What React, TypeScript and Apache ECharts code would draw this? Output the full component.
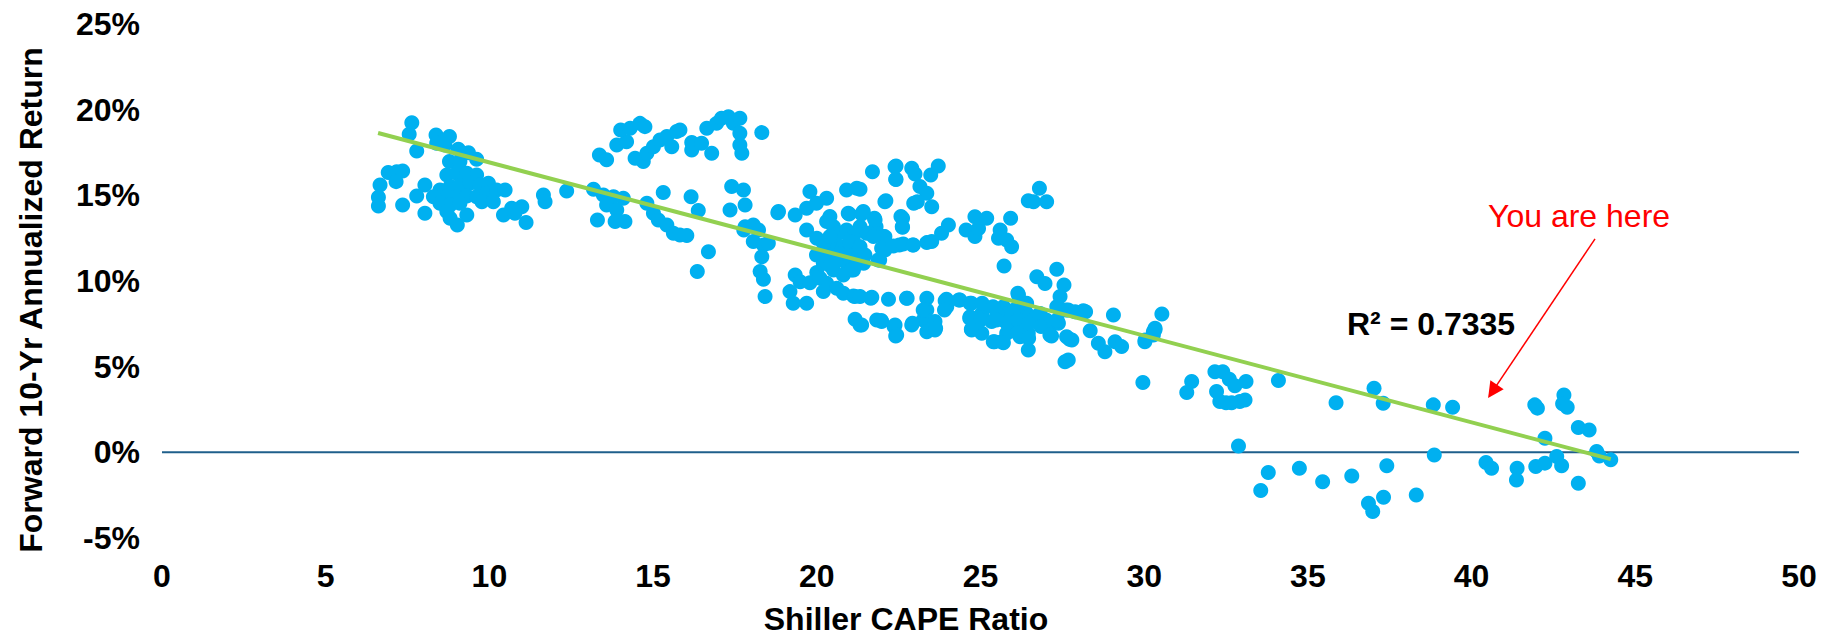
import React, { useEffect, useRef } from "react";
import * as echarts from "echarts";

// ---- axes ----
const X_MIN = 0;
const X_MAX = 50;
const X_STEP = 5;
const Y_MIN = -5;
const Y_MAX = 25;
const Y_STEP = 5;

const xAxisTitle = "Shiller CAPE Ratio";
const yAxisTitle = "Forward 10-Yr Annualized Return";

// ---- data: [Shiller CAPE, forward 10-yr annualized return (%)] ----
const lowCapePoints: [number, number][] = [
  [7.63, 19.24], [7.55, 18.56], [7.78, 17.59], [8.37, 18.52], [8.78, 18.43], [8.39, 18.04], [8.64, 17.94],
  [9.05, 17.69], [9.36, 17.49], [9.61, 17.1], [8.78, 16.97], [9.1, 16.97], [6.91, 16.33], [7.17, 16.38],
  [7.35, 16.42], [7.15, 15.8], [6.66, 15.6], [6.61, 14.89], [6.61, 14.38], [7.35, 14.44], [8.03, 15.6],
  [7.78, 14.96], [8.03, 13.95], [8.7, 16.19], [9.0, 16.29], [9.31, 16.29], [9.61, 16.19], [8.49, 15.31],
  [8.8, 15.51], [9.1, 15.6], [9.41, 15.7], [9.71, 15.6], [9.97, 15.7], [8.29, 14.92], [8.7, 14.92],
  [9.0, 14.92], [9.31, 14.96], [9.61, 14.92], [9.92, 15.12], [10.22, 15.31], [10.48, 15.31], [8.49, 14.54],
  [8.8, 14.44], [9.1, 14.54], [8.7, 14.05], [8.8, 13.66], [9.02, 13.27], [9.31, 13.85], [9.77, 14.63],
  [10.12, 14.63], [10.43, 13.85], [10.68, 14.24], [10.99, 14.34], [10.78, 13.95], [11.12, 13.41],
  [11.65, 15.02], [11.7, 14.63], [12.36, 15.25],
  [13.18, 15.35], [13.48, 15.02], [13.79, 14.92], [14.09, 14.83], [13.58, 14.44], [13.89, 14.15],
  [13.3, 13.56], [13.84, 13.47], [14.14, 13.47], [14.81, 14.54], [15.01, 13.95], [15.16, 13.56],
  [15.31, 15.16], [15.42, 13.27], [15.62, 12.78],
  [13.36, 17.36], [13.58, 17.07], [13.89, 17.94], [14.19, 18.13], [14.01, 18.82], [14.3, 18.91],
  [14.6, 19.2], [14.75, 19.01], [14.45, 17.16], [14.7, 16.97], [14.81, 17.45], [15.01, 17.84],
  [15.21, 18.23], [15.42, 18.43], [15.57, 17.84], [15.72, 18.72],
];

const midCapePoints: [number, number][] = [
  [15.82, 18.82], [16.18, 18.08], [16.18, 17.65], [16.48, 18.04], [16.79, 17.45], [16.64, 18.91],
  [16.94, 19.2], [17.09, 19.5], [17.3, 19.59], [17.45, 19.2], [17.65, 19.5], [17.65, 18.62],
  [17.65, 17.94], [17.71, 17.45], [18.32, 18.66],
  [16.16, 14.92], [16.38, 14.11], [16.69, 11.71], [16.35, 10.55], [16.03, 12.65], [15.82, 12.69],
  [17.4, 15.51], [17.76, 15.31], [17.81, 14.44], [17.35, 14.15], [17.81, 13.17], [18.06, 13.27],
  [18.22, 12.98], [18.06, 12.3], [18.37, 12.1], [18.52, 12.2], [18.32, 11.42], [18.27, 10.55],
  [18.37, 10.1], [18.42, 9.09], [18.83, 14.05], [19.34, 13.85], [19.69, 14.24], [19.79, 15.22],
  [19.99, 14.54], [20.3, 14.83], [20.4, 13.76], [19.69, 12.98], [20.91, 15.31], [21.22, 15.41],
  [20.96, 13.95], [17.77, 12.98],
  [20.3, 13.47], [20.51, 13.17], [20.66, 12.78], [20.91, 12.98], [21.12, 12.59], [20.51, 12.2],
  [20.81, 12.0], [21.02, 11.81], [20.3, 11.62], [20.61, 11.23], [20.91, 11.03], [21.22, 11.23],
  [19.99, 11.52], [20.2, 11.03], [20.51, 10.64], [20.81, 10.35], [21.12, 10.64],
  [20.0, 12.5], [20.2, 12.2], [20.4, 12.6], [20.7, 11.6], [21.0, 12.3], [20.4, 10.9], [20.0, 10.5],
  [21.3, 12.0], [21.3, 11.5],
  [19.34, 10.35], [19.49, 9.96], [19.79, 9.9], [20.1, 10.16], [20.3, 9.87], [19.18, 9.38], [19.28, 8.7],
  [19.69, 8.7], [20.2, 9.38], [20.61, 9.57], [20.81, 9.28], [21.12, 9.13], [21.17, 7.77], [21.32, 7.43],
  [21.83, 7.73],
  [21.7, 16.38], [22.39, 16.67], [22.9, 16.58], [22.41, 15.94], [22.08, 14.63], [22.57, 13.76],
  [22.61, 13.17], [20.99, 13.91], [21.37, 13.91], [21.76, 13.66], [21.81, 13.17], [22.08, 12.59],
  [22.96, 14.54], [22.93, 12.1], [22.52, 12.1], [22.08, 11.81], [21.92, 11.23], [21.05, 10.64],
  [21.43, 11.03], [18.81, 13.99], [21.16, 9.09], [21.65, 8.99], [22.19, 8.93], [22.74, 8.99],
  [21.97, 7.69], [22.36, 7.34], [22.41, 6.79], [22.9, 7.43],
];

const highCapePoints: [number, number][] = [
  [22.42, 16.71], [22.42, 15.93], [23.0, 16.25], [23.48, 16.19], [23.71, 16.71], [21.32, 15.35],
  [23.15, 15.51], [23.36, 15.12], [23.07, 14.63], [23.51, 14.34], [22.11, 14.69], [21.42, 14.05],
  [21.78, 13.56], [22.62, 13.66], [22.62, 13.13], [21.32, 13.17], [21.52, 12.78], [22.03, 12.59],
  [21.73, 12.59], [21.32, 12.0], [21.98, 11.91], [22.34, 12.04], [22.64, 12.16], [22.95, 12.1],
  [23.36, 12.24], [23.51, 12.3], [23.81, 12.78], [24.02, 13.27], [21.47, 11.52], [21.88, 11.23],
  [21.32, 11.07], [24.56, 12.98], [24.83, 13.75], [25.19, 13.66], [24.83, 12.59], [24.94, 13.07],
  [25.6, 12.98], [25.55, 12.49], [25.8, 12.39], [25.95, 12.0], [25.92, 13.66], [25.72, 10.88],
  [26.46, 14.69], [26.8, 15.41], [27.02, 14.63], [26.62, 14.63],
  [21.32, 9.09], [21.68, 9.05], [23.36, 8.99], [23.92, 8.85], [24.37, 8.89], [21.37, 7.43],
  [21.98, 7.63], [22.39, 7.43], [22.44, 6.85], [23.25, 7.72], [23.36, 8.31], [23.61, 7.63],
  [23.36, 7.04], [23.61, 7.14], [23.97, 8.5], [24.68, 8.7], [24.68, 7.92], [25.04, 8.11], [24.73, 7.14],
  [25.04, 6.95], [25.34, 7.63], [25.39, 6.46], [25.65, 6.46], [25.7, 8.5], [25.7, 7.72], [26.0, 7.92],
  [26.16, 9.18], [26.31, 8.5], [26.62, 7.72], [26.11, 7.24], [26.46, 6.95], [26.46, 5.97], [26.72, 10.25],
  [26.97, 9.86], [27.33, 10.68], [27.55, 9.77], [27.43, 9.09], [27.33, 8.5], [27.68, 8.31], [27.38, 7.53],
  [27.17, 6.79], [27.63, 6.75], [27.79, 6.56], [27.58, 5.29], [27.68, 5.39], [28.14, 8.27], [28.35, 7.1],
  [28.6, 6.36], [28.8, 5.87], [29.06, 8.02], [29.11, 6.46], [29.31, 6.17], [30.03, 6.56], [30.28, 7.04],
  [30.33, 7.24], [30.54, 8.07], [29.96, 4.07],
  [25.8, 8.11], [26.11, 8.31], [26.41, 8.11], [25.9, 7.43], [26.26, 7.63], [26.82, 8.11], [26.92, 7.43],
  [25.5, 8.11], [26.21, 6.75], [25.8, 6.95],
  [22.76, 9.0], [23.96, 8.93], [24.34, 8.89], [23.25, 8.31], [23.9, 8.31], [22.92, 7.53], [23.63, 7.24],
  [24.72, 8.7], [25.05, 8.7], [24.67, 7.82], [25.0, 7.73], [24.72, 7.18], [25.43, 6.46], [25.7, 6.4],
  [25.38, 8.5], [26.03, 8.31], [26.36, 8.11], [26.69, 7.92], [27.01, 7.73], [25.49, 7.73], [25.81, 7.53],
  [26.14, 7.73], [26.47, 7.53], [26.85, 7.34], [27.23, 7.53], [26.14, 9.28], [26.41, 8.7], [26.14, 6.95],
  [26.47, 6.66], [27.12, 6.85], [27.72, 6.6], [27.34, 7.73], [27.61, 8.31], [27.89, 8.21], [28.21, 8.21],
];

const veryHighCapePoints: [number, number][] = [
  [30.33, 7.15], [30.28, 6.85], [30.02, 6.46], [31.45, 4.13], [31.3, 3.49], [32.16, 4.71], [32.4, 4.71],
  [32.6, 4.26], [32.77, 3.88], [33.11, 4.13], [32.21, 3.55], [32.31, 2.96], [32.67, 2.9], [32.92, 2.96],
  [33.08, 3.06], [32.5, 2.9], [34.1, 4.19], [35.86, 2.9], [37.02, 3.74], [37.3, 2.86], [38.83, 2.77],
  [39.42, 2.63],
  [32.88, 0.37], [33.79, -1.18], [33.56, -2.23], [34.74, -0.93], [35.45, -1.71], [36.34, -1.38],
  [36.85, -2.97], [36.98, -3.46], [37.31, -2.62], [37.41, -0.79], [38.31, -2.49], [38.86, -0.15],
  [40.44, -0.6], [40.61, -0.93], [41.39, -0.93], [41.37, -1.61], [41.93, 2.77], [42.01, 2.58],
  [42.82, 3.35], [42.78, 2.83], [42.92, 2.63], [42.24, 0.82], [41.96, -0.83], [42.24, -0.63],
  [42.6, -0.25], [42.75, -0.79], [43.26, -1.8], [43.26, 1.45], [43.59, 1.31], [43.82, 0.05],
  [43.9, -0.21], [44.25, -0.44],
];

// linear trend line end points
const trendLine: [number, number][] = [[6.6, 18.64], [44.25, -0.4]];
const rSquaredText = "R\u00B2 = 0.7335";
const calloutText = "You are here";
const calloutFrom: [number, number] = [43.77, 12.46];
const calloutTo: [number, number] = [40.64, 3.56];

const FONT = "'Liberation Sans', Arial, Helvetica, sans-serif";
const DOT = "#00B0F0";
const TREND = "#92D050";
const ZERO = "#1F5F8B";

export default function App() {
  const ref = useRef<HTMLDivElement>(null);

  useEffect(() => {
    if (!ref.current) return;
    const chart = echarts.init(ref.current, undefined, { renderer: "svg" });
    const allPoints = [...lowCapePoints, ...midCapePoints, ...highCapePoints, ...veryHighCapePoints];
    const zeroLine: [number, number][] = [[X_MIN, 0], [X_MAX, 0]];

    const option: any = {
      animation: false,
      backgroundColor: "#ffffff",
      grid: { left: 162, right: 25, top: 24, bottom: 99, containLabel: false, outerBoundsMode: "none" },
      xAxis: {
        type: "value",
        min: X_MIN,
        max: X_MAX,
        interval: X_STEP,
        axisLine: { show: false },
        axisTick: { show: false },
        splitLine: { show: false },
        axisLabel: { fontSize: 32, fontWeight: "bold", color: "#000", fontFamily: FONT, margin: 22 },
      },
      yAxis: {
        type: "value",
        min: Y_MIN,
        max: Y_MAX,
        interval: Y_STEP,
        axisLine: { show: false },
        axisTick: { show: false },
        splitLine: { show: false },
        axisLabel: {
          fontSize: 32,
          fontWeight: "bold",
          color: "#000",
          fontFamily: FONT,
          margin: 22,
          formatter: (v: number) => `${v}%`,
        },
      },
      series: [
        {
          type: "line",
          data: zeroLine,
          symbol: "none",
          silent: true,
          z: 1,
          lineStyle: { color: ZERO, width: 2 },
        },
        {
          type: "scatter",
          data: allPoints,
          symbol: "circle",
          symbolSize: 15,
          z: 2,
          itemStyle: { color: DOT, opacity: 1 },
        },
        {
          type: "line",
          data: trendLine,
          symbol: "none",
          silent: true,
          z: 3,
          lineStyle: { color: TREND, width: 4 },
          markLine: {
            silent: true,
            symbol: ["none", "triangle"],
            symbolSize: 16,
            label: { show: false },
            lineStyle: { color: "#FF0000", width: 1.5, type: "solid" },
            data: [[{ coord: calloutFrom }, { coord: calloutTo }]],
          },
        },
      ],
      graphic: [
        {
          type: "text",
          x: 31,
          y: 300,
          rotation: Math.PI / 2,
          style: {
            text: yAxisTitle,
            fontFamily: FONT,
            fontSize: 32,
            fontWeight: "bold",
            fill: "#000",
            align: "center",
            verticalAlign: "middle",
            textAlign: "center",
            textVerticalAlign: "middle",
          },
        },
        {
          type: "text",
          x: 906,
          y: 619,
          style: {
            text: xAxisTitle,
            fontFamily: FONT,
            fontSize: 32,
            fontWeight: "bold",
            fill: "#000",
            align: "center",
            verticalAlign: "middle",
            textAlign: "center",
            textVerticalAlign: "middle",
          },
        },
        {
          type: "text",
          x: 1347,
          y: 324,
          style: {
            text: rSquaredText,
            fontFamily: FONT,
            fontSize: 32,
            fontWeight: "bold",
            fill: "#000",
            align: "left",
            verticalAlign: "middle",
            textAlign: "left",
            textVerticalAlign: "middle",
          },
        },
        {
          type: "text",
          x: 1488,
          y: 216,
          style: {
            text: calloutText,
            fontFamily: FONT,
            fontSize: 32,
            fontWeight: "normal",
            fill: "#FF0000",
            align: "left",
            verticalAlign: "middle",
            textAlign: "left",
            textVerticalAlign: "middle",
          },
        },
      ],
    };

    chart.setOption(option);
    return () => chart.dispose();
  }, []);

  return (
    <div
      ref={ref}
      style={{ position: "fixed", left: 0, top: 0, width: 1824, height: 637, background: "#fff" }}
    />
  );
}
